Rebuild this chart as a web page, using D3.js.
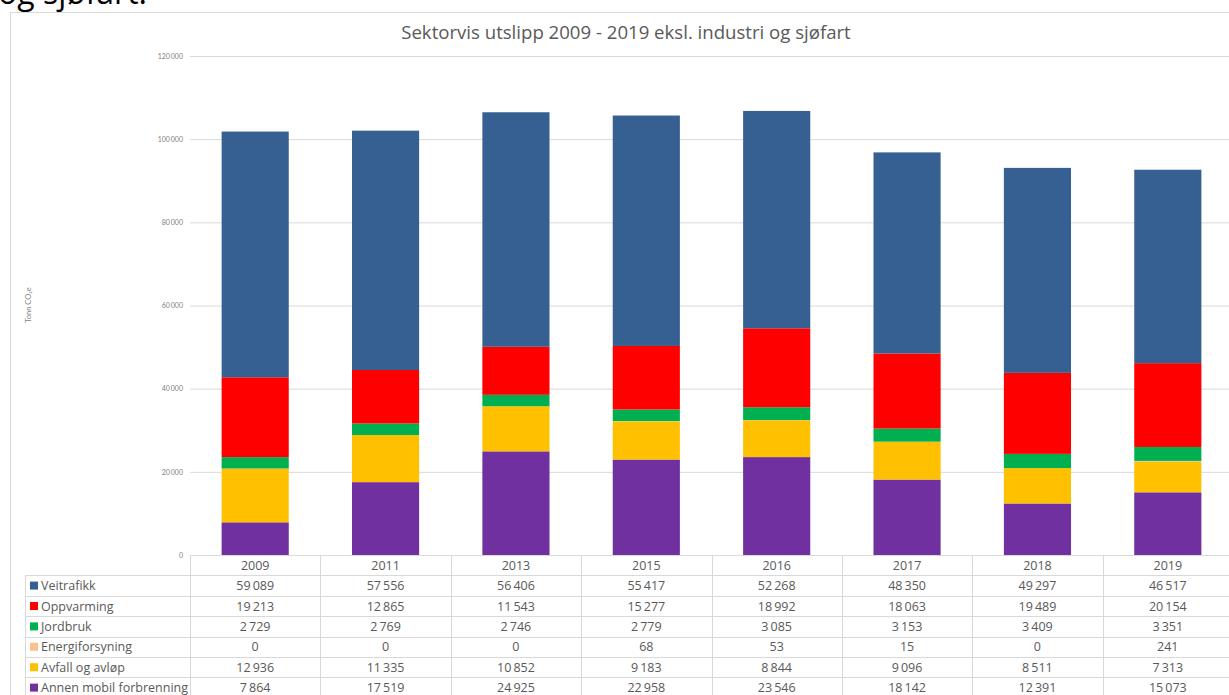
<!DOCTYPE html>
<html>
<head>
<meta charset="utf-8">
<script src="https://cdn.jsdelivr.net/npm/d3@7"></script>
<style>
  body { margin: 0; background: #fff; }
  svg { display: block; font-family: "Open Sans", "Noto Sans", sans-serif; }
</style>
</head>
<body>
<svg id="chart" width="1229" height="695"></svg>
<script>
const YEARS = ['2009', '2011', '2013', '2015', '2016', '2017', '2018', '2019'];
const SECTORS = ['Veitrafikk', 'Oppvarming', 'Jordbruk', 'Energiforsyning', 'Avfall og avløp', 'Annen mobil forbrenning'];
const COLORS = ['#376092', '#ff0000', '#00b050', '#fac090', '#ffc000', '#7030a0'];
const veitrafikk = [59089, 57556, 56406, 55417, 52268, 48350, 49297, 46517];
const oppvarming = [19213, 12865, 11543, 15277, 18992, 18063, 19489, 20154];
const jordbruk = [2729, 2769, 2746, 2779, 3085, 3153, 3409, 3351];
const energiforsyning = [0, 0, 0, 68, 53, 15, 0, 241];
const avfall = [12936, 11335, 10852, 9183, 8844, 9096, 8511, 7313];
const annen = [7864, 17519, 24925, 22958, 23546, 18142, 12391, 15073];
const Y_TICKS = [0, 20000, 40000, 60000, 80000, 100000, 120000];

const SERIES = [veitrafikk, oppvarming, jordbruk, energiforsyning, avfall, annen];

const svg = d3.select('#chart');
const fmt = v => d3.format(',')(v).replace(/,/g, '\u2009');

// rows for d3.stack
const rows = YEARS.map((y, i) => {
  const r = { year: y };
  SECTORS.forEach((s, j) => { r[s] = SERIES[j][i]; });
  return r;
});

// text cut off above the chart frame
svg.append('text')
  .attr('x', -2).attr('y', 4)
  .attr('font-size', 32).attr('fill', '#000')
  .text('og sjøfart.');

// chart frame
svg.append('rect')
  .attr('x', 10.5).attr('y', 12.5)
  .attr('width', 1240).attr('height', 700)
  .attr('fill', 'none').attr('stroke', '#d9d9d9');

svg.append('text')
  .attr('x', 626).attr('y', 39)
  .attr('text-anchor', 'middle')
  .attr('font-size', 18.6).attr('fill', '#595959')
  .text('Sektorvis utslipp 2009 - 2019 eksl. industri og sjøfart');

const x = d3.scaleBand().domain(YEARS).range([190, 1233]).paddingInner(0.485).paddingOuter(0.2425);
const xCol = d3.scaleBand().domain(YEARS).range([190, 1233]);
const y = d3.scaleLinear().domain([0, 120000]).range([555, 56]);

// gridlines + tick labels
const yAxis = svg.append('g').attr('transform', 'translate(190,0)')
  .call(d3.axisLeft(y).tickValues(Y_TICKS).tickSize(-1045).tickFormat(fmt).tickPadding(7));
yAxis.select('.domain').remove();
yAxis.selectAll('line').attr('stroke', '#d9d9d9');
yAxis.selectAll('text').attr('fill', '#7f7f7f').attr('font-size', 7).attr('font-family', 'Lato, sans-serif');

svg.append('text')
  .attr('transform', 'translate(31,305) rotate(-90)')
  .attr('text-anchor', 'middle')
  .attr('font-size', 7.5).attr('fill', '#7f7f7f').attr('font-family', 'Lato, sans-serif')
  .text('Tonn CO₂e');

// stacked bars, purple at the bottom
const stackKeys = SECTORS.slice().reverse();
const stacked = d3.stack().keys(stackKeys)(rows);
const color = d3.scaleOrdinal().domain(SECTORS).range(COLORS);

svg.append('g').selectAll('g').data(stacked).join('g')
  .attr('fill', d => color(d.key))
  .selectAll('rect').data(d => d).join('rect')
  .attr('x', d => x(d.data.year))
  .attr('width', x.bandwidth())
  .attr('y', d => y(d[1]))
  .attr('height', d => y(d[0]) - y(d[1]));

// data table
const ROW_H = 20.4;
const tableTop = 555;
const grid = svg.append('g').attr('stroke', '#d9d9d9').attr('stroke-width', 1);
grid.append('line').attr('x1', 190).attr('x2', 1229).attr('y1', tableTop + 0.5).attr('y2', tableTop + 0.5);
for (let i = 1; i <= SECTORS.length + 1; i++) {
  const yy = Math.round(tableTop + i * ROW_H) + 0.5;
  grid.append('line').attr('x1', 25).attr('x2', 1229).attr('y1', yy).attr('y2', yy);
}
grid.append('line').attr('x1', 25.5).attr('x2', 25.5)
  .attr('y1', Math.round(tableTop + ROW_H)).attr('y2', 695);
YEARS.forEach(yr => {
  const xx = Math.round(xCol(yr)) + 0.5;
  grid.append('line').attr('x1', xx).attr('x2', xx).attr('y1', tableTop).attr('y2', 695);
});

svg.append('g').selectAll('text').data(YEARS).join('text')
  .attr('x', d => xCol(d) + xCol.bandwidth() / 2)
  .attr('y', tableTop + ROW_H / 2 + 4.5)
  .attr('text-anchor', 'middle').attr('font-size', 12.5).attr('fill', '#595959')
  .text(d => d);

SECTORS.forEach((s, j) => {
  const cy = tableTop + (j + 1) * ROW_H + ROW_H / 2;
  svg.append('rect')
    .attr('x', 30).attr('y', cy - 4).attr('width', 8).attr('height', 8)
    .attr('fill', COLORS[j]);
  svg.append('text')
    .attr('x', 41).attr('y', cy + 4.5)
    .attr('font-size', 12.5).attr('fill', '#595959')
    .text(s);
  svg.append('g').selectAll('text').data(SERIES[j]).join('text')
    .attr('x', (d, i) => xCol(YEARS[i]) + xCol.bandwidth() / 2)
    .attr('y', cy + 4.5)
    .attr('text-anchor', 'middle').attr('font-size', 12.5).attr('fill', '#595959')
    .text(d => fmt(d));
});
</script>
</body>
</html>
